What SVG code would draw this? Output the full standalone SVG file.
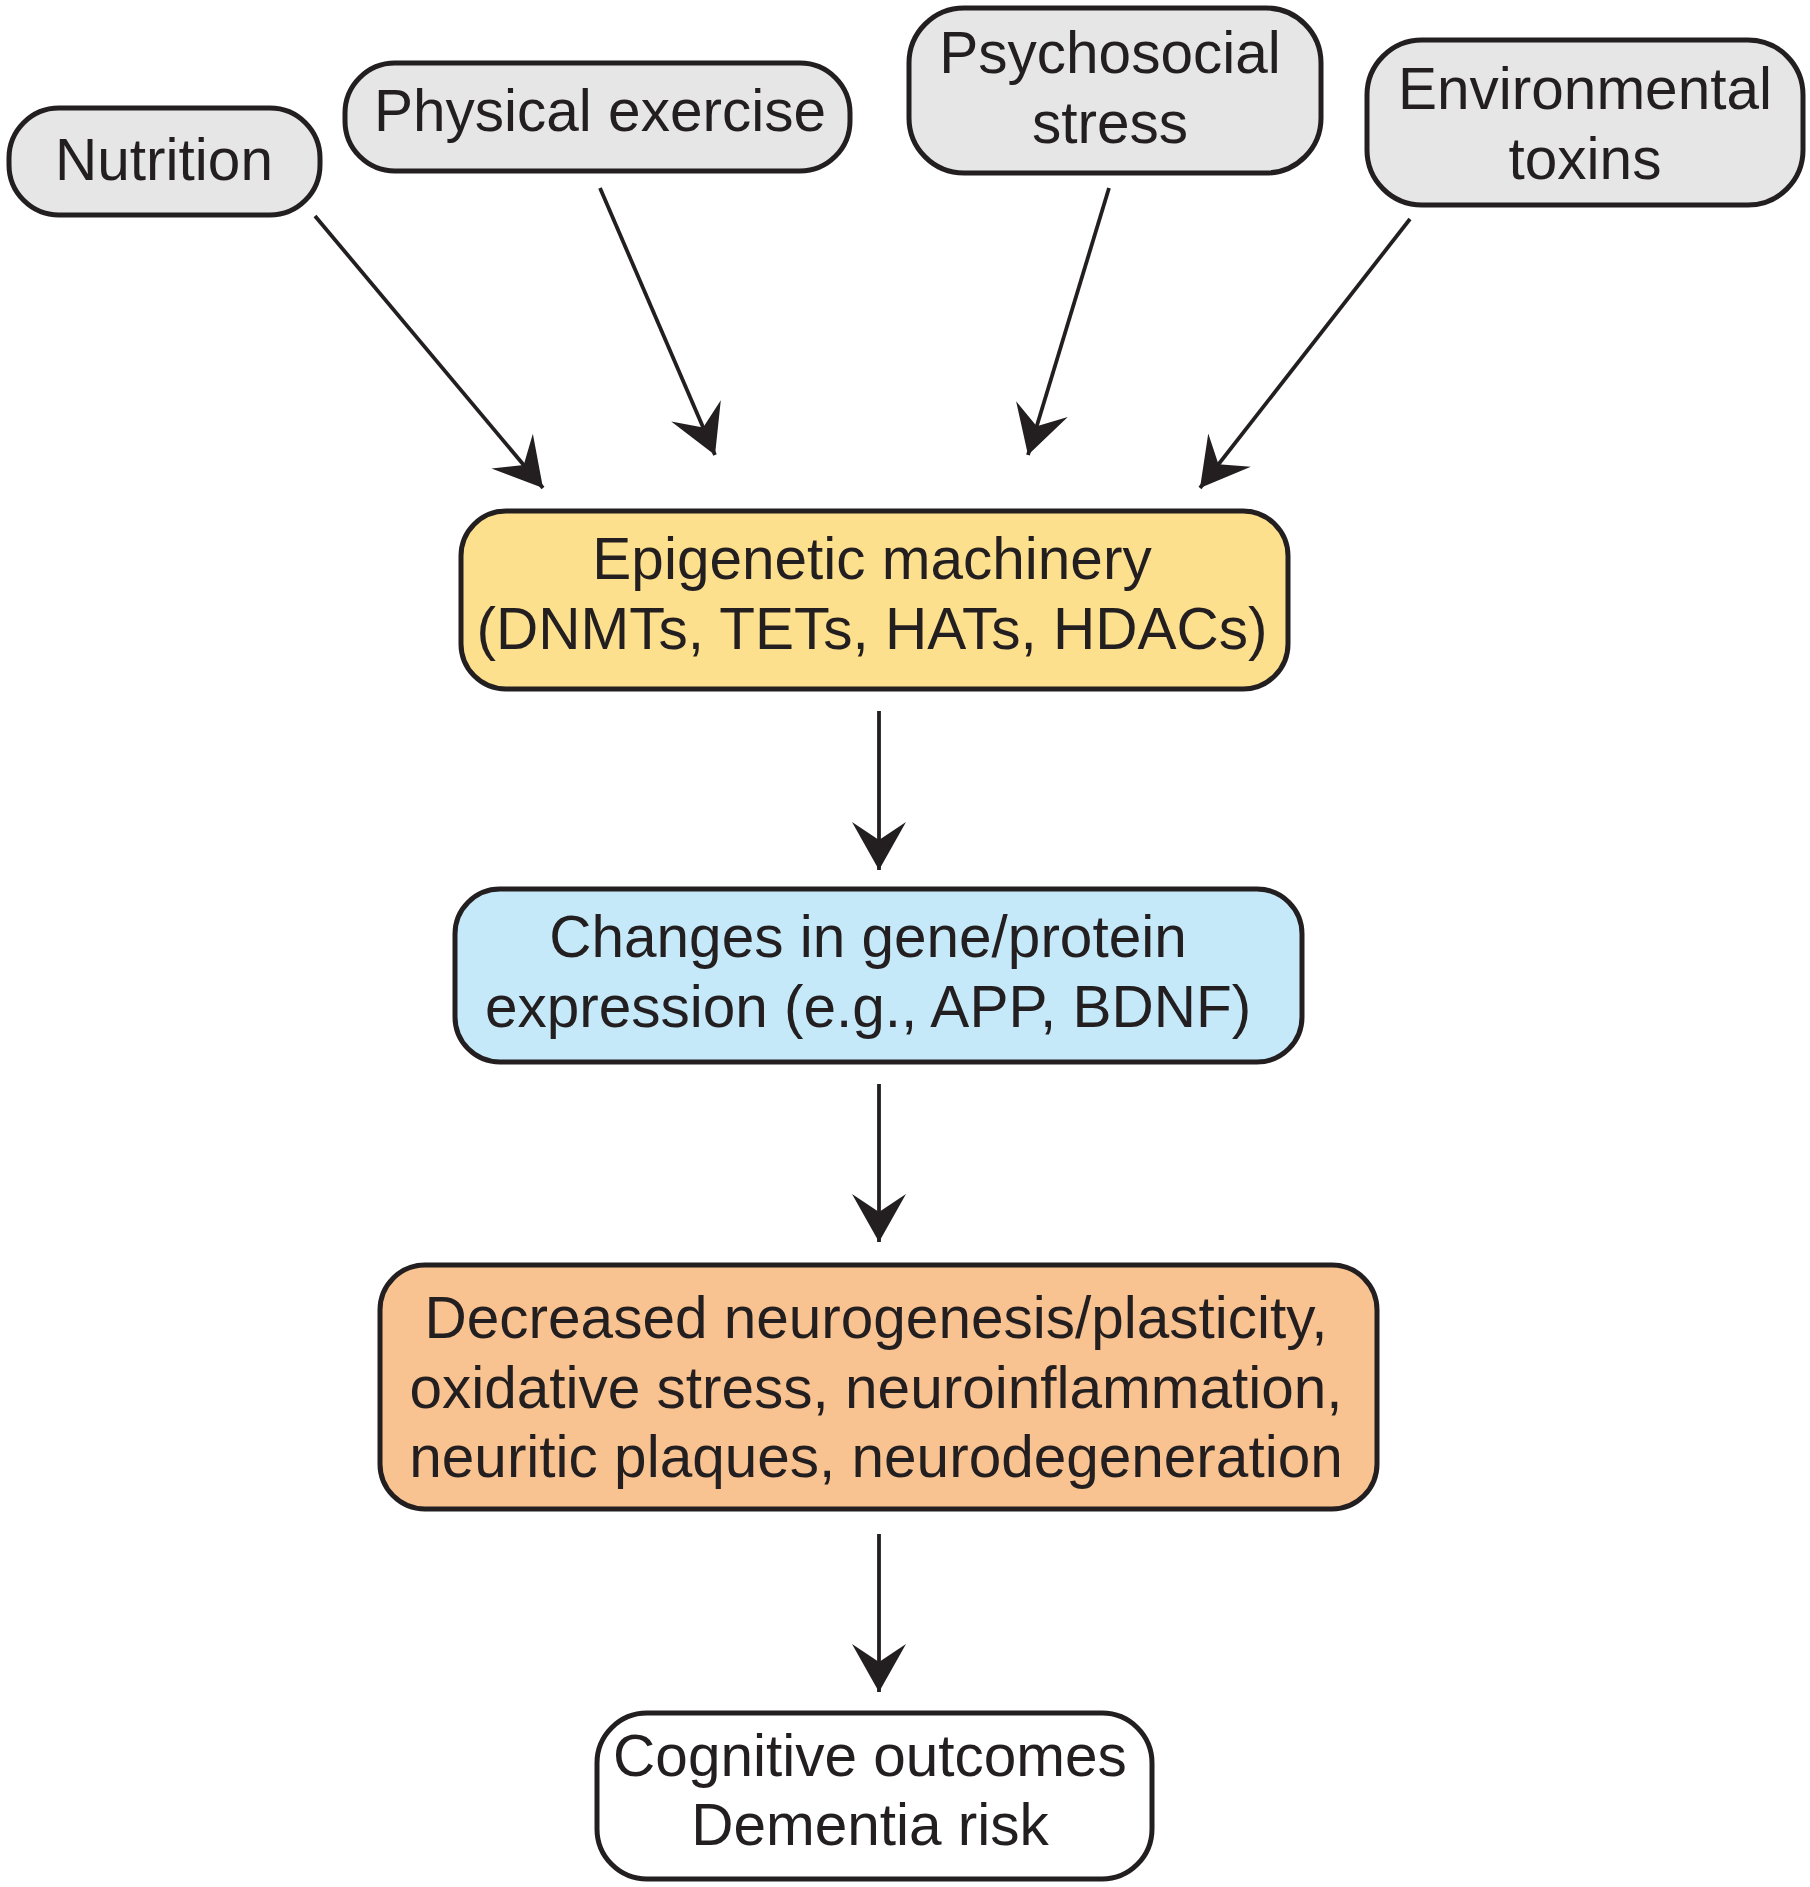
<svg xmlns="http://www.w3.org/2000/svg" width="1810" height="1887" viewBox="0 0 1810 1887">
<style>
.box{stroke:#231f20;stroke-width:5}
.gray{fill:#e6e6e6}
.yellow{fill:#fde08e}
.blue{fill:#c6e9f9}
.orange{fill:#f9c391}
.white{fill:#ffffff}
text{font-family:"Liberation Sans",Arial,sans-serif;font-size:58.5px;fill:#231f20;text-anchor:middle}
.conn{stroke:#231f20;stroke-width:3.8;fill:none;marker-end:url(#arrow)}
</style>
<defs>
<marker id="arrow" markerUnits="userSpaceOnUse" viewBox="-55 -32 60 64" refX="0" refY="0" markerWidth="60" markerHeight="64" orient="auto">
<path d="M0,0 L-48,-27 L-30,0 L-48,27 Z" fill="#231f20"/>
</marker>
</defs>
<rect width="1810" height="1887" fill="#ffffff"/>
<g id="connectors">
<path class="conn" d="M315,216 L543,488"/>
<path class="conn" d="M600,188 L715,455"/>
<path class="conn" d="M1109,188 L1028,455"/>
<path class="conn" d="M1410,219 L1200,488"/>
<path class="conn" d="M879,711 L879,870"/>
<path class="conn" d="M879,1084 L879,1242"/>
<path class="conn" d="M879,1534 L879,1692"/>
</g>
<g id="nutrition">
<rect class="box gray" x="9" y="108" width="311" height="107" rx="50"/>
<text x="164" y="180">Nutrition</text>
</g>
<g id="physical-exercise">
<rect class="box gray" x="345" y="63" width="505" height="108" rx="50"/>
<text x="600" y="131">Physical exercise</text>
</g>
<g id="psychosocial-stress">
<rect class="box gray" x="909" y="8" width="412" height="165" rx="55"/>
<text x="1110" y="73">Psychosocial</text>
<text x="1110" y="143">stress</text>
</g>
<g id="environmental-toxins">
<rect class="box gray" x="1367" y="40" width="436" height="165" rx="55"/>
<text x="1585" y="109">Environmental</text>
<text x="1585" y="179">toxins</text>
</g>
<g id="epigenetic-machinery">
<rect class="box yellow" x="461" y="511" width="827" height="178" rx="45"/>
<text x="872" y="579">Epigenetic machinery</text>
<text x="872" y="649">(DNMTs, TETs, HATs, HDACs)</text>
</g>
<g id="gene-expression">
<rect class="box blue" x="455" y="889" width="847" height="173" rx="45"/>
<text x="868" y="957">Changes in gene/protein</text>
<text x="868" y="1027">expression (e.g., APP, BDNF)</text>
</g>
<g id="neuro-effects">
<rect class="box orange" x="380" y="1265" width="997" height="244" rx="45"/>
<text x="876" y="1338">Decreased neurogenesis/plasticity,</text>
<text x="876" y="1408">oxidative stress, neuroinflammation,</text>
<text x="876" y="1477">neuritic plaques, neurodegeneration</text>
</g>
<g id="cognitive-outcomes">
<rect class="box white" x="597" y="1713" width="555" height="166" rx="50"/>
<text x="870" y="1776">Cognitive outcomes</text>
<text x="870" y="1845">Dementia risk</text>
</g>
</svg>
